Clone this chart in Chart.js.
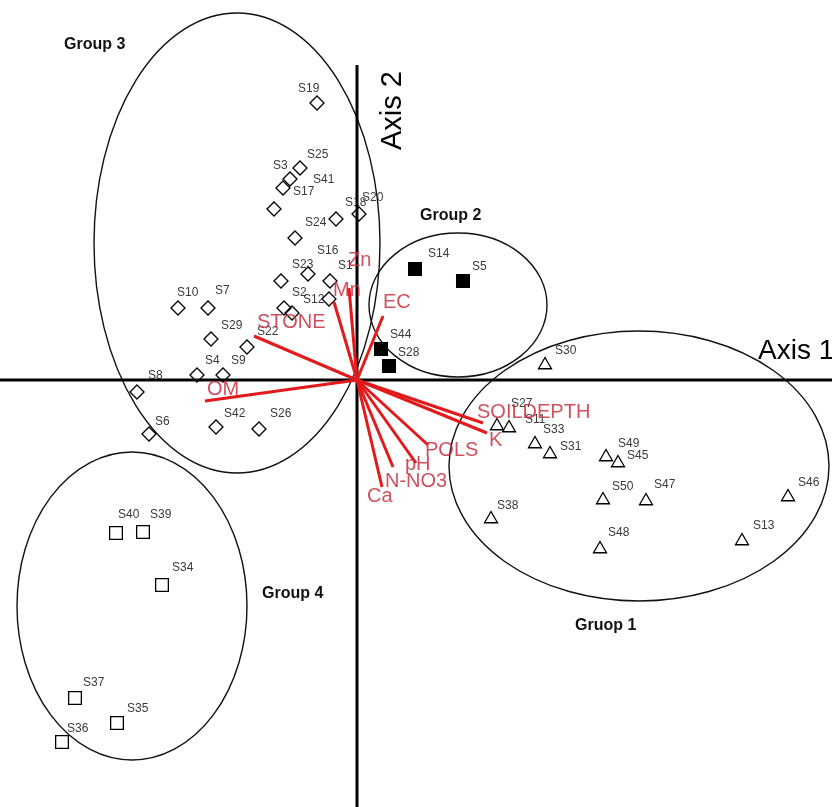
<!DOCTYPE html>
<html><head><meta charset="utf-8">
<script src="https://cdn.jsdelivr.net/npm/chart.js@4.4.0/dist/chart.umd.min.js"></script>
<style>html,body{margin:0;padding:0;background:#fff;}#wrap{width:832px;height:807px;position:relative;}</style>
</head><body><div id="wrap"><canvas id="c" width="832" height="807"></canvas></div>
<script>
// ---- Sample scores (Axis 1, Axis 2) ----
const group1Names = ["S30","S27","S11","S33","S31","S49","S45","S50","S47","S46","S13","S48","S38"];
const group1X = [1.88,1.40,1.52,1.78,1.93,2.49,2.61,2.46,2.89,4.31,3.85,2.43,1.34];
const group1Y = [0.15,-0.46,-0.48,-0.64,-0.74,-0.77,-0.83,-1.20,-1.21,-1.17,-1.61,-1.69,-1.39];

const group2Names = ["S14","S5","S44","S28"];
const group2X = [0.58,1.06,0.24,0.32];
const group2Y = [1.11,0.99,0.31,0.14];

const group3Names = ["S19","S25","S3","S41","S17","S24","S18","S20","S16","S23","S1","","S2","S12","S10","S7","S29","S22","S4","S9","S8","S6","S42","S26"];
const group3X = [-0.40,-0.57,-0.67,-0.74,-0.83,-0.62,-0.21,0.02,-0.49,-0.76,-0.27,-0.28,-0.73,-0.65,-1.79,-1.49,-1.46,-1.10,-1.60,-1.34,-2.20,-2.08,-1.41,-0.98];
const group3Y = [2.77,2.12,2.01,1.92,1.71,1.42,1.61,1.66,1.06,0.99,0.99,0.81,0.72,0.67,0.72,0.72,0.41,0.33,0.05,0.05,-0.12,-0.54,-0.47,-0.49];

const group4Names = ["S40","S39","S34","S37","S35","S36"];
const group4X = [-2.41,-2.14,-1.95,-2.82,-2.40,-2.95];
const group4Y = [-1.53,-1.52,-2.05,-3.18,-3.43,-3.62];

// ---- Environmental vectors ----
const vectorNames = ["STONE","OM","Mn","Zn","EC","SOILDEPTH","K","POLS","pH","N-NO3","Ca"];
const vectorX = [-1.03,-1.52,-0.23,-0.08,0.26,1.26,1.30,0.71,0.59,0.36,0.25];
const vectorY = [0.44,-0.21,0.78,0.92,0.64,-0.43,-0.53,-0.65,-0.83,-0.87,-1.07];

// ---- Group ellipses: centre x, centre y, half width, half height, tilt (deg) ----
const ellipseNames = ["Gruop 1","Group 2","Group 3","Group 4"];
const ellipseCX = [2.82,1.01,-1.20,-2.25];
const ellipseCY = [-0.86,0.75,1.37,-2.26];
const ellipseRX = [1.90,0.89,1.43,1.15];
const ellipseRY = [1.35,0.72,2.30,1.54];
const ellipseTilt = [0,0,0,0];

// ---- label placement (pixel offsets from the point) ----
const labelOffsets = {
 S19:[-19,-14],S25:[7,-13],S3:[-17,-13],S41:[30,-8],S17:[19,-17],S24:[10,-15],S18:[9,-16],S20:[3,-16],
 S16:[9,-23],S23:[11,-16],S1:[8,-15],S2:[8,-15],S12:[11,-13],S10:[-1,-15],S7:[7,-17],S29:[10,-13],
 S22:[10,-15],S4:[8,-14],S9:[8,-14],S8:[11,-16],S6:[6,-12],S42:[8,-13],S26:[11,-15],
 S14:[13,-15],S5:[9,-14],S44:[9,-14],S28:[9,-13],
 S30:[10,-14],S27:[14,-22],S11:[16,-8],S33:[8,-14],S31:[10,-7],S49:[12,-13],S45:[9,-7],S50:[9,-13],
 S47:[8,-16],S46:[10,-14],S13:[11,-15],S48:[8,-16],S38:[6,-13],
 S40:[2,-18],S39:[7,-17],S34:[10,-17],S37:[8,-15],S35:[10,-14],S36:[5,-13]
};
const vectorLabelOffsets = {
 "STONE":[3,-14],"OM":[2,-12],"Mn":[-1,-12],"Zn":[-1,-28],"EC":[0,-14],"SOILDEPTH":[-6,-11],
 "K":[2,7],"POLS":[-3,5],"pH":[-11,1],"N-NO3":[-8,14],"Ca":[-15,9]
};
const groupLabelPos = {"Gruop 1":[2.18,-2.46],"Group 2":[0.63,1.64],"Group 3":[-2.93,3.35],"Group 4":[-0.95,-2.14]};

function pts(xs, ys){ return xs.map((x,i)=>({x:x,y:ys[i]})); }

const datasets = [];
const groups = [
 {names:group1Names,xs:group1X,ys:group1Y,style:'triangle',r:7.5,fill:'rgba(0,0,0,0)'},
 {names:group2Names,xs:group2X,ys:group2Y,style:'rect',r:9,fill:'#000'},
 {names:group3Names,xs:group3X,ys:group3Y,style:'rectRot',r:7,fill:'rgba(0,0,0,0)'},
 {names:group4Names,xs:group4X,ys:group4Y,style:'rect',r:9,fill:'rgba(0,0,0,0)'}
];
groups.forEach(g=>{
  datasets.push({type:'scatter',data:pts(g.xs,g.ys),pointStyle:g.style,pointRadius:g.r,
    pointBackgroundColor:g.fill,pointBorderColor:'#000',pointBorderWidth:1.3,clip:false,order:2});
});
vectorNames.forEach((n,i)=>{
  datasets.push({type:'scatter',data:[{x:0,y:0},{x:vectorX[i],y:vectorY[i]}],showLine:true,
    borderColor:'#e31a1c',borderWidth:3,pointRadius:0,clip:false,order:0});
});

const bgPlugin = {
  id:'bg',
  beforeDatasetsDraw(chart){
    const ctx=chart.ctx, xs=chart.scales.x, ys=chart.scales.y;
    ctx.save();
    ctx.fillStyle='#fff';ctx.fillRect(0,0,chart.width,chart.height);
    // ellipses
    ctx.strokeStyle='#111';ctx.lineWidth=1.4;
    ellipseNames.forEach((n,i)=>{
      const cx=xs.getPixelForValue(ellipseCX[i]), cy=ys.getPixelForValue(ellipseCY[i]);
      const rx=Math.abs(xs.getPixelForValue(ellipseCX[i]+ellipseRX[i])-cx);
      const ry=Math.abs(ys.getPixelForValue(ellipseCY[i]+ellipseRY[i])-cy);
      ctx.beginPath();ctx.ellipse(cx,cy,rx,ry,ellipseTilt[i]*Math.PI/180,0,Math.PI*2);ctx.stroke();
    });
    // point labels
    ctx.font='12px "Liberation Sans", Arial, sans-serif';
    ctx.fillStyle='#3a3a3a';ctx.textAlign='left';ctx.textBaseline='middle';
    groups.forEach(g=>{
      g.names.forEach((n,i)=>{
        if(!n) return;
        const o=labelOffsets[n]||[9,-15];
        ctx.fillText(n,xs.getPixelForValue(g.xs[i])+o[0],ys.getPixelForValue(g.ys[i])+o[1]);
      });
    });
    // group labels
    ctx.font='bold 16px "Liberation Sans", Arial, sans-serif';ctx.fillStyle='#111';
    Object.keys(groupLabelPos).forEach(k=>{
      const p=groupLabelPos[k];
      ctx.fillText(k,xs.getPixelForValue(p[0]),ys.getPixelForValue(p[1]));
    });
    // axes
    ctx.strokeStyle='#000';ctx.lineWidth=3;
    const x0=xs.getPixelForValue(0), y0=ys.getPixelForValue(0);
    ctx.beginPath();ctx.moveTo(xs.getPixelForValue(xs.min),y0);ctx.lineTo(xs.getPixelForValue(xs.max),y0);ctx.stroke();
    ctx.beginPath();ctx.moveTo(x0,ys.getPixelForValue(3.15));ctx.lineTo(x0,ys.getPixelForValue(ys.min));ctx.stroke();
    // axis titles
    ctx.fillStyle='#000';ctx.font='28px "Liberation Sans", Arial, sans-serif';ctx.textBaseline='alphabetic';
    ctx.fillText('Axis 1',xs.getPixelForValue(4.01),ys.getPixelForValue(0.21));
    ctx.save();
    ctx.translate(xs.getPixelForValue(0.44),ys.getPixelForValue(2.30));
    ctx.rotate(-Math.PI/2);ctx.font='29px "Liberation Sans", Arial, sans-serif';
    ctx.fillText('Axis 2',0,0);
    ctx.restore();
    ctx.restore();
  },
  afterDatasetsDraw(chart){
    const ctx=chart.ctx, xs=chart.scales.x, ys=chart.scales.y;
    ctx.save();
    ctx.font='20px "Liberation Sans", Arial, sans-serif';ctx.fillStyle='rgba(200,50,65,0.85)';
    ctx.textAlign='left';ctx.textBaseline='middle';
    vectorNames.forEach((n,i)=>{
      const o=vectorLabelOffsets[n];
      ctx.fillText(n,xs.getPixelForValue(vectorX[i])+o[0],ys.getPixelForValue(vectorY[i])+o[1]);
    });
    ctx.restore();
  }
};

new Chart(document.getElementById('c'),{
  type:'scatter',
  data:{datasets:datasets},
  options:{
    responsive:false,animation:false,devicePixelRatio:1,
    layout:{padding:0,autoPadding:false},
    plugins:{legend:{display:false},tooltip:{enabled:false}},
    scales:{
      x:{type:'linear',min:-3.57,max:4.75,display:false},
      y:{type:'linear',min:-4.27,max:3.80,display:false}
    }
  },
  plugins:[bgPlugin]
});
</script></body></html>
